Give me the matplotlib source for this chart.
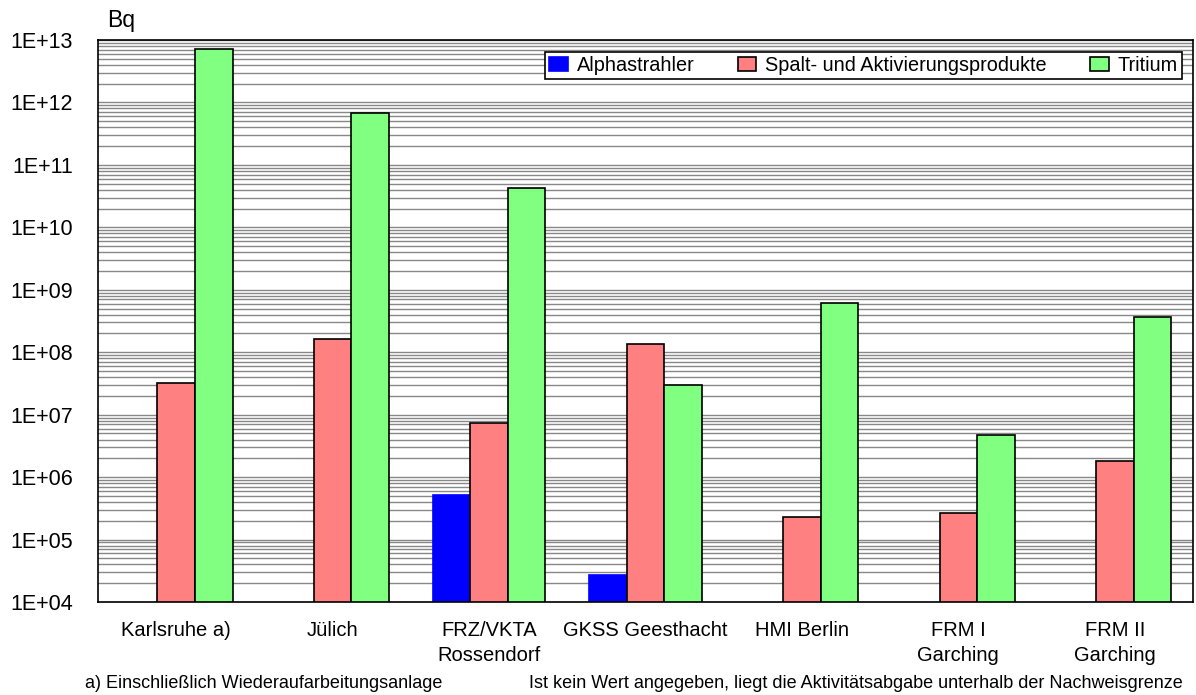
import numpy as np
import matplotlib
matplotlib.use("Agg")
import matplotlib.pyplot as plt
from matplotlib.ticker import LogLocator, FixedLocator, NullFormatter, FuncFormatter

plt.rcParams['font.family'] = ['Liberation Sans', 'DejaVu Sans']

# data (Bq), NaN = below detection limit
standorte = ['Karlsruhe a)', 'Jülich', 'FRZ/VKTA\nRossendorf', 'GKSS Geesthacht',
             'HMI Berlin', 'FRM I\nGarching', 'FRM II\nGarching']
alpha = [np.nan, np.nan, 5.2e5, 2.7e4, np.nan, np.nan, np.nan]
spalt = [3.2e7, 1.6e8, 7.4e6, 1.35e8, 2.3e5, 2.7e5, 1.8e6]
tritium = [7.2e12, 6.8e11, 4.3e10, 3.0e7, 6.2e8, 4.7e6, 3.6e8]

serien = [('Alphastrahler', alpha, '#0000FF', '#0000FF'),
          ('Spalt- und Aktivierungsprodukte', spalt, '#FF8080', 'black'),
          ('Tritium', tritium, '#80FF80', 'black')]

fig = plt.figure(figsize=(11.96, 6.95), dpi=100)
ax = fig.add_axes([98 / 1196, 93 / 695, 1095 / 1196, 562 / 695])

x = np.arange(len(standorte))
w = 0.24
for i, (name, vals, fc, ec) in enumerate(serien):
    vals = np.array(vals)
    mask = ~np.isnan(vals)
    ax.bar(x[mask] + (i - 1) * w, vals[mask], w, bottom=0, color=fc,
           edgecolor=ec, linewidth=1.2, label=name, zorder=3)

ax.set_yscale('log')
ax.set_ylim(1e4, 1e13)
ax.set_xlim(-0.5, len(standorte) - 0.5)

ax.yaxis.set_major_locator(FixedLocator([10.0 ** k for k in range(4, 14)]))
ax.yaxis.set_major_formatter(FuncFormatter(lambda v, p: '1E+%02d' % round(np.log10(v))))
ax.yaxis.set_minor_locator(LogLocator(base=10, subs=np.arange(2, 10), numticks=100))
ax.yaxis.set_minor_formatter(NullFormatter())
ax.grid(which='both', axis='y', color='#888888', linewidth=1.0, zorder=0)
ax.tick_params(axis='y', which='both', length=0, labelsize=15.5, pad=18)
ax.tick_params(axis='x', length=0, labelsize=14.5, pad=14)
ax.set_xticks(x)
ax.set_xticklabels(standorte, linespacing=1.4)
for s in ax.spines.values():
    s.set_color('black')
    s.set_linewidth(1.2)
    s.set_zorder(5)

fig.text(107 / 1196, 1 - 21 / 695, 'Bq', fontsize=16.5, ha='left', va='center')

leg = ax.legend(loc='upper left', bbox_to_anchor=(0.408, 0.9286, 0.582, 0.05),
                mode='expand', ncol=3, fontsize=14.3,
                frameon=True, fancybox=False, edgecolor='black', framealpha=1,
                handlelength=0.95, handleheight=0.7, handletextpad=0.45,
                columnspacing=1.0, borderpad=0.2, borderaxespad=0)
leg.get_frame().set_linewidth(1.2)
leg.set_zorder(10)

fig.text(85 / 1196, 1 - 683 / 695, 'a) Einschließlich Wiederaufarbeitungsanlage',
         fontsize=13, ha='left', va='center')
fig.text(1183 / 1196, 1 - 683 / 695,
         'Ist kein Wert angegeben, liegt die Aktivitätsabgabe unterhalb der Nachweisgrenze',
         fontsize=13, ha='right', va='center')

fig.savefig('out.png', dpi=100)
